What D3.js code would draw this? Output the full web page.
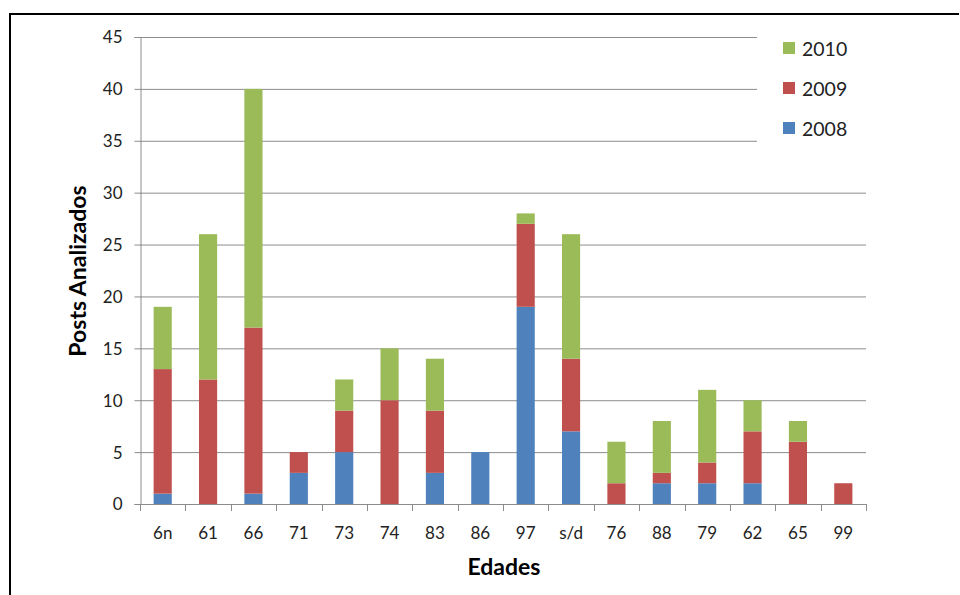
<!DOCTYPE html>
<html><head><meta charset="utf-8">
<script src="https://cdn.jsdelivr.net/npm/d3@7"></script>
<style>body{margin:0;background:#fff}text{font-family:Lato,"Open Sans",sans-serif}</style>
</head><body><svg id="c" width="960" height="595"></svg>
<script>
const categories = ["6n","61","66","71","73","74","83","86","97","s/d","76","88","79","62","65","99"];
const s2008 = [1,0,1,3,5,0,3,5,19,7,0,2,2,2,0,0];
const s2009 = [12,12,16,2,4,10,6,0,8,7,2,1,2,5,6,2];
const s2010 = [6,14,23,0,3,5,5,0,1,12,4,5,7,3,2,0];
const seriesNames = ["2008","2009","2010"];
const colors = ["#4F81BD","#C0504D","#9BBB59"];
const yTicks = [0,5,10,15,20,25,30,35,40,45];

const svg = d3.select("#c");
const m = {l:140, r:866, t:37, b:504};
const x = d3.scaleBand().domain(categories).range([m.l, m.r]).paddingInner(0.6).paddingOuter(0.3);
const xb = d3.scaleBand().domain(categories).range([m.l, m.r]);
const y = d3.scaleLinear().domain([0,45]).range([m.b, m.t]);

// frame
svg.append("path").attr("d","M10,600 V14 H959").attr("fill","none").attr("stroke","#000").attr("stroke-width",2);

// gridlines
svg.append("g").selectAll("line").data(yTicks).join("line")
  .attr("x1",m.l).attr("x2",m.r).attr("y1",d=>y(d)+0.5).attr("y2",d=>y(d)+0.5)
  .attr("stroke","#8c8c8c").attr("stroke-width",1);

// stacked bars
const rows = categories.map((c,i)=>({cat:c,"2008":s2008[i],"2009":s2009[i],"2010":s2010[i]}));
const stack = d3.stack().keys(seriesNames)(rows);
svg.append("g").selectAll("g").data(stack).join("g").attr("fill",(d,i)=>colors[i])
  .selectAll("rect").data(d=>d.filter(p=>p[1]-p[0]>0)).join("rect")
  .attr("x",d=>x(d.data.cat)).attr("width",x.bandwidth())
  .attr("y",d=>y(d[1])).attr("height",d=>y(d[0])-y(d[1]));

// y axis
const ya = svg.append("g").attr("transform",`translate(${m.l+0.5},0)`)
  .call(d3.axisLeft(y).tickValues(yTicks).tickSize(6).tickPadding(12));
ya.select(".domain").attr("stroke","#8c8c8c");
ya.selectAll(".tick line").attr("stroke","#8c8c8c");
ya.selectAll(".tick text").attr("font-size",17).attr("fill","#222").attr("dy","0.35em");

// x axis
const xa = svg.append("g").attr("transform",`translate(0,${m.b+0.5})`)
  .call(d3.axisBottom(xb).tickSize(0).tickPadding(22));
xa.select(".domain").attr("stroke","#8c8c8c").attr("d",`M${m.l},0H${m.r}`);
xa.selectAll(".tick text").attr("font-size",17).attr("fill","#222");
svg.append("g").selectAll("line").data(categories.concat(["end"])).join("line")
  .attr("x1",(d,i)=>Math.round(m.l+i*xb.bandwidth())+0.5).attr("x2",(d,i)=>Math.round(m.l+i*xb.bandwidth())+0.5)
  .attr("y1",m.b).attr("y2",m.b+7).attr("stroke","#8c8c8c");

// axis titles
svg.append("text").attr("transform","translate(86,271) rotate(-90)").attr("text-anchor","middle")
  .attr("font-weight","bold").attr("font-size",23).text("Posts Analizados");
svg.append("text").attr("x",504).attr("y",575).attr("text-anchor","middle")
  .attr("font-weight","bold").attr("font-size",23).text("Edades");

// legend (reverse order) with white box hiding gridlines
const leg = svg.append("g");
leg.append("rect").attr("x",757).attr("y",25).attr("width",112).attr("height",125).attr("fill","#fff");
[2,1,0].forEach((k,j)=>{
  const yy = 48 + j*40;
  leg.append("rect").attr("x",783).attr("y",yy-6).attr("width",12).attr("height",12).attr("fill",colors[k]);
  leg.append("text").attr("x",802).attr("y",yy+1).attr("dy","0.35em").attr("font-size",19.5).attr("fill","#222").text(seriesNames[k]);
});
</script></body></html>
